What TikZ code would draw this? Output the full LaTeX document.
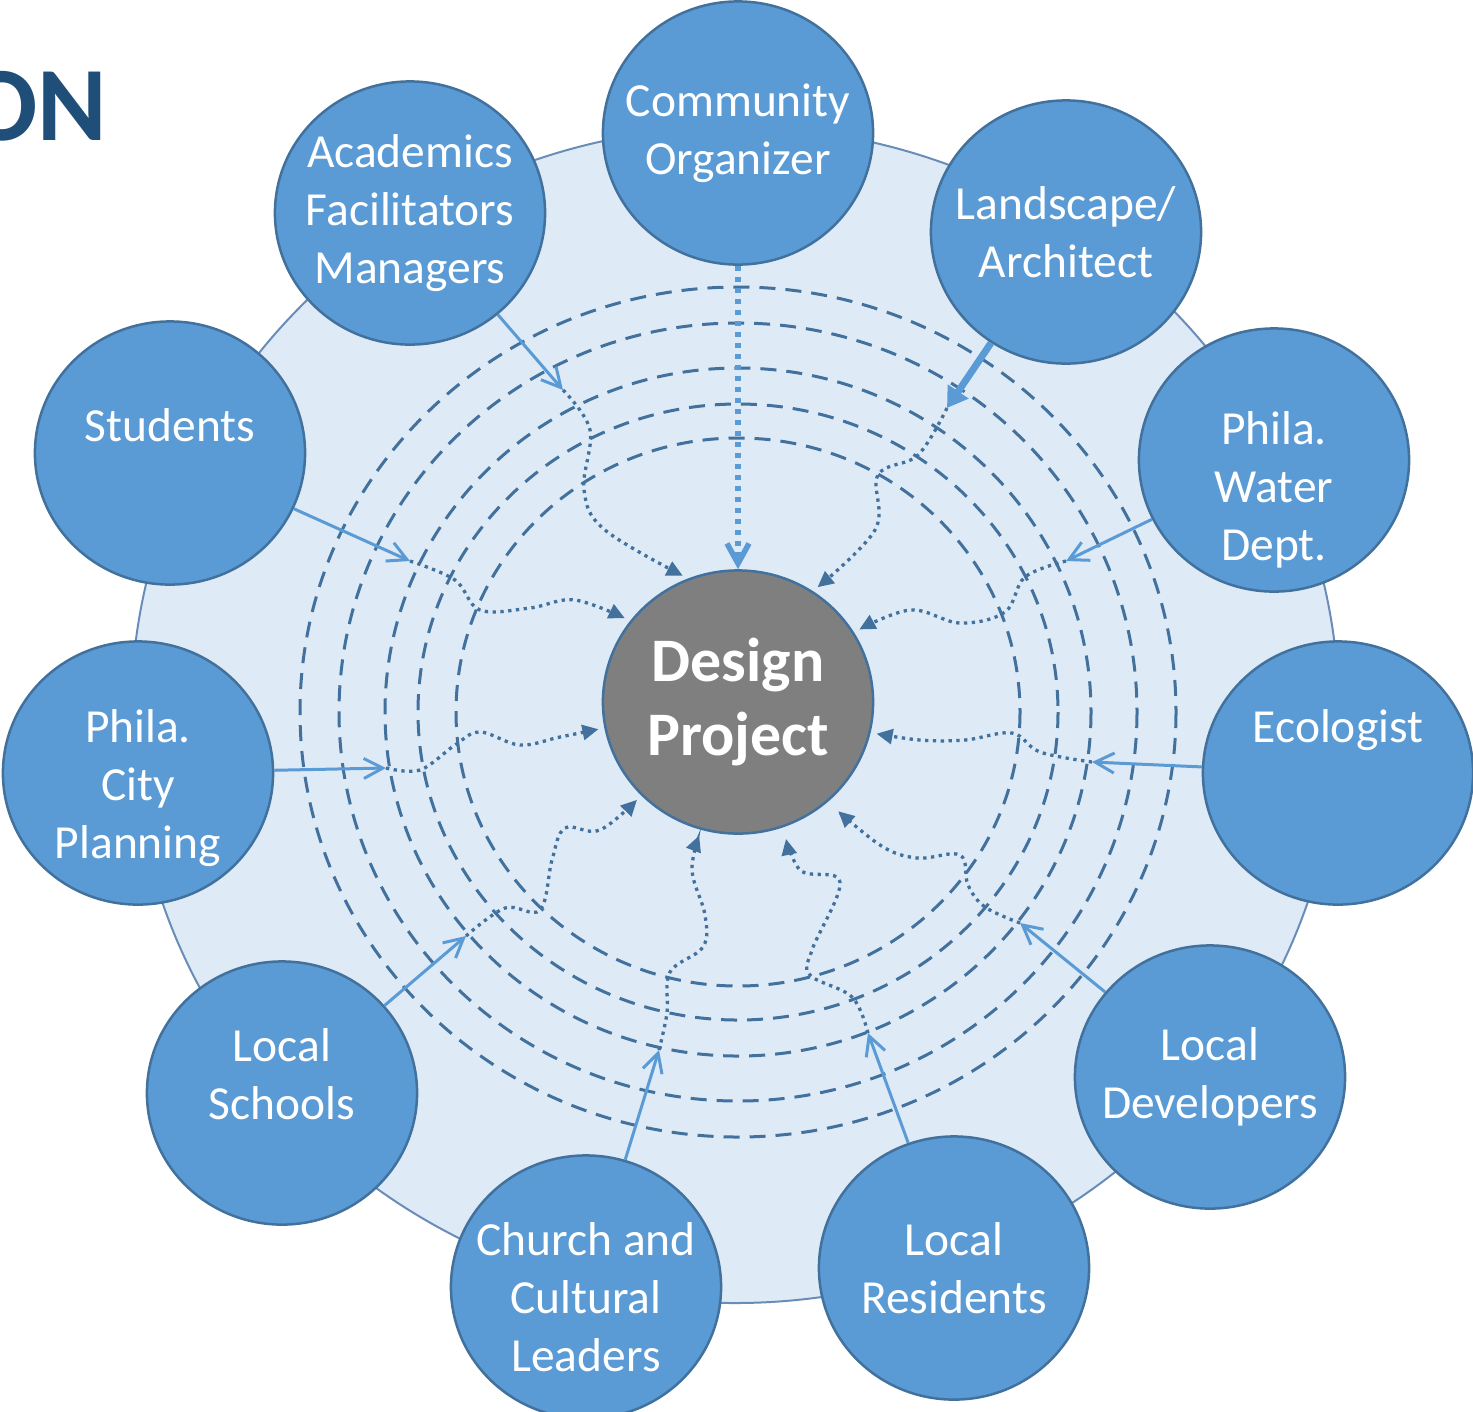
\documentclass[tikz,border=0pt]{standalone}
\usepackage{fontspec}
\setmainfont{Carlito}
\usetikzlibrary{arrows.meta,shapes.geometric}

\definecolor{nodeblue}{HTML}{5B9BD5}
\definecolor{rimblue}{HTML}{41719C}
\definecolor{paleblue}{HTML}{DEEBF7}
\definecolor{edgeblue}{HTML}{6A8DB8}
\definecolor{titleblue}{HTML}{1F4E79}
\definecolor{hubgray}{HTML}{7F7F7F}

\begin{document}
\begin{tikzpicture}[x=0.01cm, y=-0.01cm]
    \tikzset{
        stake/.style={ellipse, draw=rimblue, fill=nodeblue, line width=0.025cm,
            minimum width=2.70cm, minimum height=2.63cm, inner sep=0pt},
        stxt/.style={text=white, align=center, inner sep=0pt,
            font=\fontsize{13.5pt}{16.5pt}\selectfont},
        hub/.style={stake, fill=hubgray},
        ring/.style={draw=rimblue, line width=0.03cm, dash pattern=on 0.16cm off 0.1cm},
        feed/.style={draw=nodeblue, line width=0.03cm,
            -{Straight Barb[length=0.19cm, width=0.2cm]}},
        flow/.style={draw=rimblue, line width=0.033cm, dash pattern=on 0.033cm off 0.045cm,
            -{Triangle[length=0.16cm, width=0.15cm]}, shorten >=0.06cm}
    }
    \useasboundingbox (0,0) rectangle (1473,1411);
    \clip (0,0) rectangle (1473,1411);

    % backdrop and rings
    \filldraw[fill=paleblue, draw=edgeblue, line width=0.02cm] (735,715) ellipse [x radius=604, y radius=588];
    \foreach \rx/\ry in {438/425, 399/389, 353/344, 320/308, 282/274}
        \draw[ring] (738,712) ellipse [x radius=\rx, y radius=\ry];

    \node[anchor=base east, inner sep=0pt, text=titleblue,
        font=\fontsize{30pt}{36pt}\selectfont\bfseries] (title) at (108,140) {ON};

    % hub and stakeholders
    \node[hub, text=white, align=center, font=\fontsize{17.6pt}{21.3pt}\selectfont\bfseries] (dp) at (738,702) {Design\\Project};
    \node[stake, label={[stxt]center:Community\\Organizer}] (org) at (738,133) {};
    \node[stake, label={[stxt]center:Academics\\Facilitators\\Managers}] (aca) at (410,213) {};
    \node[stake, label={[stxt]center:Landscape/\\Architect}] (arc) at (1066,232) {};
    \node[stake, label={[stxt, yshift=0.28cm]center:Students}] (stu) at (170,453) {};
    \node[stake, label={[stxt, yshift=-0.30cm]center:Phila.\\Water\\Dept.}] (pwd) at (1274,460) {};
    \node[stake, label={[stxt, yshift=-0.15cm]center:Phila.\\City\\Planning}] (pcp) at (138,773) {};
    \node[stake, label={[stxt, yshift=0.43cm]center:Ecologist}] (eco) at (1338,773) {};
    \node[stake, label={[stxt, yshift=0.19cm]center:Local\\Schools}] (sch) at (282,1093) {};
    \node[stake, label={[stxt]center:Local\\Developers}] (dev) at (1210,1077) {};
    \node[stake, label={[stxt, yshift=-0.10cm]center:Church and\\Cultural\\Leaders}] (chu) at (586,1287) {};
    \node[stake, label={[stxt]center:Local\\Residents}] (res) at (954,1268) {};

    % where the solid feeds stop
    \coordinate (inAca) at (563,390);
    \coordinate (inArc) at (947,408);
    \coordinate (inStu) at (410,561);
    \coordinate (inPwd) at (1066,561);
    \coordinate (inPcp) at (386,768);
    \coordinate (inEco) at (1092,762);
    \coordinate (inSch) at (466,936);
    \coordinate (inChu) at (659,1050);
    \coordinate (inRes) at (868,1033);
    \coordinate (inDev) at (1020,923);

    \draw[nodeblue, line width=0.055cm, dash pattern=on 0.05cm off 0.06cm,
        -{Straight Barb[length=0.2cm, width=0.22cm]}] (org) -- (dp);
    \draw[nodeblue, line width=0.07cm, -{Triangle[length=0.2cm, width=0.24cm]}] (arc) -- (inArc);
    \draw[feed] (aca) -- (inAca);
    \draw[feed] (stu) -- (inStu);
    \draw[feed] (pwd) -- (inPwd);
    \draw[feed] (pcp) -- (inPcp);
    \draw[feed] (eco) -- (inEco);
    \draw[feed] (sch) -- (inSch);
    \draw[feed] (chu) -- (inChu);
    \draw[feed] (res) -- (inRes);
    \draw[feed] (dev) -- (inDev);

    % wandering paths into the hub
    \draw[flow] plot[smooth, tension=0.6] coordinates {(inAca) (590,430) (584,490) (605,530) (dp.112)};
    \draw[flow] plot[smooth, tension=0.6] coordinates {(inArc) (918,455) (878,475) (875,530) (dp.56)};
    \draw[flow] plot[smooth, tension=0.6] coordinates {(inStu) (455,580) (480,610) (530,608) (575,600) (dp.143)};
    \draw[flow] plot[smooth, tension=0.6] coordinates {(inPwd) (1025,577) (1005,612) (960,623) (910,610) (dp.31)};
    \draw[flow] plot[smooth, tension=0.6] coordinates {(inPcp) (420,770) (455,745) (480,732) (520,745) (560,737) (dp.191)};
    \draw[flow] plot[smooth, tension=0.6] coordinates {(inEco) (1040,752) (1012,733) (965,740) (920,740) (dp.-13)};
    \draw[flow] plot[smooth, tension=0.6] coordinates {(inSch) (505,908) (540,910) (552,860) (565,828) (600,830) (dp.224)};
    \draw[flow] plot[smooth, tension=0.6] coordinates {(inChu) (667,1013) (670,972) (703,947) (705,915) (692,870) (dp.254)};
    \draw[flow, shorten >=0.12cm] plot[smooth, tension=0.6] coordinates {(inRes) (852,997) (810,975) (812,950) (840,882) (800,870) (dp.-70)};
    \draw[flow, shorten >=0.14cm] plot[smooth, tension=0.6] coordinates {(inDev) (985,907) (968,885) (960,855) (917,858) (880,845) (dp.-48)};
\end{tikzpicture}
\end{document}
